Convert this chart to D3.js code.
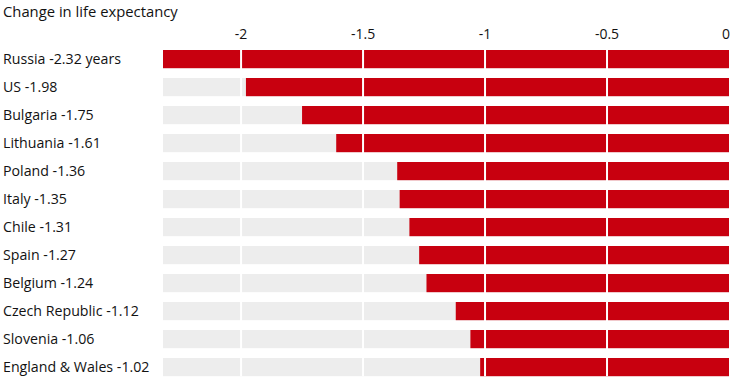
<!DOCTYPE html>
<html>
<head>
<meta charset="utf-8">
<script src="https://cdn.jsdelivr.net/npm/d3@7"></script>
<style>
  body { margin: 0; background: #fff; }
  text { font-family: "Open Sans", "Noto Sans", sans-serif; fill: #121212; }
</style>
</head>
<body>
<div id="chart"></div>
<script>
const countries = ['Russia', 'US', 'Bulgaria', 'Lithuania', 'Poland', 'Italy', 'Chile', 'Spain', 'Belgium', 'Czech Republic', 'Slovenia', 'England & Wales']
const changes = [-2.32, -1.98, -1.75, -1.61, -1.36, -1.35, -1.31, -1.27, -1.24, -1.12, -1.06, -1.02]
const ticks = [-2, -1.5, -1, -0.5, 0]

const width = 740, height = 392
const svg = d3.select('#chart').append('svg').attr('width', width).attr('height', height)

const x = d3.scaleLinear().domain([-2.32, 0]).range([163, 729])
// step 28px, bar ~18px
const y = d3.scaleBand().domain(countries).range([50, 50 + 28 * 11.65]).paddingInner(0.35).paddingOuter(0)

svg.append('text').attr('x', 3).attr('y', 17).style('font-size', '14.8px').text('Change in life expectancy')

// background track
svg.append('g').selectAll('rect').data(countries).join('rect')
  .attr('x', x.range()[0]).attr('width', x.range()[1] - x.range()[0])
  .attr('y', d => y(d)).attr('height', y.bandwidth())
  .attr('fill', '#ededed')

// bars
svg.append('g').selectAll('rect').data(countries).join('rect')
  .attr('x', (d, i) => x(changes[i])).attr('width', (d, i) => x(0) - x(changes[i]))
  .attr('y', d => y(d)).attr('height', y.bandwidth())
  .attr('fill', '#c8000f')

// white gridlines over the bars
svg.append('g').selectAll('line').data(ticks.slice(0, -1)).join('line')
  .attr('x1', d => x(d)).attr('x2', d => x(d))
  .attr('y1', y.range()[0]).attr('y2', y(countries[countries.length - 1]) + y.bandwidth())
  .attr('stroke', '#fff').attr('stroke-width', 2)

// top axis labels
svg.append('g').selectAll('text').data(ticks).join('text')
  .attr('x', d => d === 0 ? x(d) + 1 : x(d)).attr('y', 39)
  .attr('text-anchor', d => d === 0 ? 'end' : 'middle')
  .style('font-size', '14px')
  .text(d => d3.format('')(d).replace('−', '-'))

// row labels
svg.append('g').selectAll('text').data(countries).join('text')
  .attr('x', 3).attr('y', d => y(d) + y.bandwidth() / 2).attr('dy', '0.35em')
  .style('font-size', '14.2px')
  .text((d, i) => d + ' ' + changes[i] + (i === 0 ? ' years' : ''))
</script>
</body>
</html>
